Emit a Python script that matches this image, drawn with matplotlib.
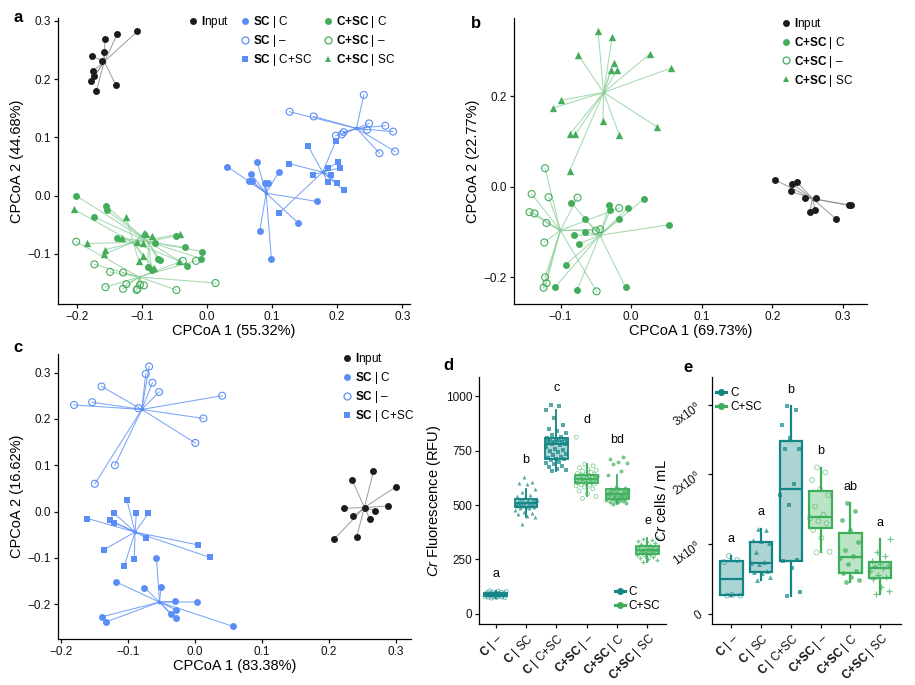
import numpy as np
import matplotlib
matplotlib.use('Agg')
import matplotlib.pyplot as plt
from matplotlib.lines import Line2D

plt.rcParams['font.family'] = ['Liberation Sans', 'DejaVu Sans']
plt.rcParams['mathtext.fontset'] = 'custom'
plt.rcParams['mathtext.rm'] = 'Liberation Sans'
plt.rcParams['mathtext.bf'] = 'Liberation Sans:bold'
plt.rcParams['mathtext.it'] = 'Liberation Sans:italic'
plt.rcParams['axes.linewidth'] = 0.9

BLACK = '#1c1c1c'
BLUE = '#5b8ef5'
GREEN = '#43ad5b'
TEAL = '#138585'
GREEN2 = '#3daf5a'

# ---- panel a (CPCoA, all samples) ----
a_input = [(-0.107, 0.282), (-0.138, 0.277), (-0.157, 0.269), (-0.177, 0.240),
           (-0.159, 0.246), (-0.162, 0.232), (-0.175, 0.214), (-0.173, 0.205),
           (-0.178, 0.197), (-0.170, 0.180), (-0.140, 0.190)]
a_sc_c = [(0.031, 0.050), (0.077, 0.058), (0.110, 0.040), (0.068, 0.037),
          (0.065, 0.025), (0.069, 0.026), (0.089, 0.022), (0.093, 0.021),
          (0.169, -0.010), (0.140, -0.047), (0.081, -0.061), (0.099, -0.109)]
a_sc_none = [(0.241, 0.173), (0.127, 0.144), (0.164, 0.136), (0.249, 0.124),
             (0.274, 0.120), (0.286, 0.110), (0.246, 0.113), (0.210, 0.109),
             (0.207, 0.105), (0.198, 0.103), (0.265, 0.073), (0.289, 0.076)]
a_sc_csc = [(0.155, 0.086), (0.198, 0.094), (0.126, 0.055), (0.202, 0.058),
            (0.186, 0.047), (0.205, 0.048), (0.163, 0.036), (0.190, 0.036),
            (0.186, 0.023), (0.200, 0.022), (0.210, 0.009), (0.111, -0.030)]
a_csc_c = [(-0.201, 0.000), (-0.155, -0.018), (-0.154, -0.025), (-0.173, -0.037),
           (-0.139, -0.072), (-0.048, -0.069), (-0.080, -0.082), (-0.034, -0.089),
           (-0.007, -0.096), (-0.009, -0.108), (-0.076, -0.109), (-0.072, -0.111),
           (-0.030, -0.121), (-0.091, -0.123), (-0.085, -0.127)]
a_csc_none = [(-0.201, -0.079), (-0.173, -0.118), (-0.149, -0.131), (-0.129, -0.132),
              (-0.156, -0.157), (-0.129, -0.160), (-0.124, -0.152), (-0.108, -0.162),
              (-0.107, -0.160), (-0.103, -0.153), (-0.097, -0.154), (-0.047, -0.162),
              (0.013, -0.150), (-0.037, -0.112), (-0.017, -0.112)]
a_csc_sc = [(-0.205, -0.023), (-0.124, -0.037), (-0.097, -0.064), (-0.093, -0.066),
            (-0.085, -0.069), (-0.131, -0.073), (-0.108, -0.080), (-0.099, -0.081),
            (-0.184, -0.082), (-0.157, -0.093), (-0.158, -0.100), (-0.099, -0.104),
            (-0.105, -0.112), (-0.042, -0.066), (-0.082, -0.124), (-0.043, -0.112)]

# ---- panel b (C+SC samples) ----
b_input = [(0.204, 0.015), (0.228, 0.007), (0.235, 0.010), (0.226, -0.010),
           (0.246, -0.024), (0.262, -0.024), (0.253, -0.056), (0.261, -0.052),
           (0.290, -0.071), (0.308, -0.041), (0.312, -0.041)]
b_csc_c = [(-0.085, -0.035), (-0.031, -0.041), (-0.030, -0.052), (-0.004, -0.046),
           (0.018, -0.027), (-0.065, -0.072), (-0.017, -0.071), (-0.081, -0.107),
           (-0.065, -0.100), (-0.074, -0.126), (0.054, -0.084), (-0.093, -0.172),
           (-0.108, -0.222), (-0.077, -0.229), (-0.008, -0.222)]
b_csc_none = [(-0.122, 0.041), (-0.141, -0.016), (-0.117, -0.023), (-0.144, -0.056),
              (-0.137, -0.059), (-0.120, -0.080), (-0.123, -0.123), (-0.076, -0.024),
              (-0.017, -0.047), (-0.050, -0.097), (-0.044, -0.094), (-0.122, -0.200),
              (-0.120, -0.213), (-0.124, -0.223), (-0.049, -0.231)]
b_csc_sc = [(-0.047, 0.344), (-0.027, 0.330), (-0.075, 0.291), (0.026, 0.293),
            (-0.025, 0.274), (-0.029, 0.257), (-0.020, 0.258), (0.056, 0.262),
            (-0.100, 0.191), (-0.111, 0.174), (-0.040, 0.146), (0.036, 0.133),
            (-0.087, 0.116), (-0.079, 0.116), (-0.017, 0.115), (-0.087, 0.036)]

# ---- panel c (SC samples) ----
c_input = [(0.267, 0.087), (0.235, 0.069), (0.300, 0.053), (0.223, 0.007),
           (0.237, -0.010), (0.289, 0.012), (0.270, 0.002), (0.262, -0.017),
           (0.208, -0.060), (0.242, -0.054), (0.254, 0.008)]
c_sc_c = [(-0.057, -0.101), (-0.117, -0.152), (-0.075, -0.164), (-0.050, -0.162),
          (-0.030, -0.194), (0.003, -0.195), (-0.028, -0.212), (-0.036, -0.221),
          (-0.028, -0.230), (-0.138, -0.227), (-0.132, -0.238), (0.058, -0.248)]
c_sc_none = [(-0.068, 0.313), (-0.073, 0.297), (-0.063, 0.278), (-0.139, 0.270),
             (-0.053, 0.258), (-0.153, 0.236), (-0.180, 0.230), (0.041, 0.250),
             (-0.084, 0.223), (0.013, 0.201), (0.001, 0.148), (-0.119, 0.100),
             (-0.149, 0.060)]
c_sc_csc = [(-0.101, 0.024), (-0.120, -0.004), (-0.087, -0.003), (-0.069, -0.004),
            (-0.160, -0.015), (-0.126, -0.019), (-0.120, -0.024), (-0.072, -0.057),
            (0.005, -0.072), (-0.135, -0.082), (-0.090, -0.102), (0.023, -0.099),
            (-0.105, -0.117)]

# ---- panel d / e (box plots) ----
groups = ['C|–', 'C|SC', 'C|C+SC', 'C+SC|–', 'C+SC|C', 'C+SC|SC']
d_letters = ['a', 'b', 'c', 'd', 'bd', 'e']
e_letters = ['a', 'a', 'b', 'b', 'ab', 'a']
d_rfu = [
    [72, 74, 75, 76, 77, 78, 79, 80, 82, 83, 84, 85, 86, 87, 87, 88, 89, 90, 91, 92,
     94, 95, 96, 97, 98, 99, 100, 102, 104, 106],
    [415, 445, 452, 458, 465, 470, 478, 485, 488, 490, 492, 494, 496, 498, 500, 502,
     503, 505, 506, 507, 508, 510, 512, 514, 516, 518, 520, 522, 524, 526, 530, 535,
     540, 548, 560, 575, 598, 600, 605, 630],
    [655, 662, 668, 675, 680, 690, 695, 700, 705, 710, 712, 715, 720, 728, 735, 742,
     750, 755, 760, 768, 775, 780, 782, 785, 788, 790, 792, 795, 798, 800, 802, 805,
     808, 812, 820, 830, 840, 850, 870, 900, 935, 955, 960],
    [530, 540, 552, 565, 575, 582, 588, 592, 595, 597, 600, 602, 604, 606, 608, 610,
     612, 614, 615, 617, 618, 620, 622, 624, 626, 628, 630, 632, 635, 638, 640, 642,
     645, 650, 655, 660, 665, 672, 680, 688, 812],
    [505, 510, 512, 515, 518, 520, 522, 524, 526, 528, 530, 532, 535, 538, 540, 542,
     545, 547, 548, 550, 552, 555, 558, 560, 562, 565, 568, 570, 572, 575, 580, 585,
     640, 655, 690, 695, 700, 710, 720],
    [240, 248, 252, 258, 262, 266, 270, 272, 275, 277, 279, 281, 283, 285, 287, 289,
     290, 291, 292, 294, 296, 298, 300, 302, 305, 308, 310, 312, 316, 320, 325, 330,
     335, 340, 345, 350],
]
e_cells_M = [
    [0.26, 0.26, 0.27, 0.74, 0.77, 0.83],
    [0.48, 0.53, 0.58, 0.60, 0.62, 0.72, 0.73, 0.74, 0.88, 1.01, 1.04, 1.06, 1.20, 1.22],
    [0.25, 0.31, 0.66, 0.75, 0.77, 1.56, 1.71, 1.86, 2.36, 2.36, 2.53, 2.71, 2.93, 2.98],
    [0.88, 0.89, 1.09, 1.20, 1.30, 1.33, 1.37, 1.42, 1.54, 1.70, 1.79, 1.92, 2.03, 2.10],
    [0.45, 0.49, 0.52, 0.58, 0.61, 0.72, 0.80, 0.83, 0.92, 1.03, 1.20, 1.35, 1.48, 1.59],
    [0.29, 0.33, 0.38, 0.50, 0.52, 0.55, 0.62, 0.66, 0.68, 0.70, 0.72, 0.76, 0.83, 0.88, 1.07],
]

W, H = 915, 685
fig = plt.figure(figsize=(W / 100, H / 100), dpi=100)


def px_axes(left, top, right, bottom):
    return fig.add_axes([left / W, 1 - bottom / H, (right - left) / W, (bottom - top) / H])


def style(ax):
    ax.spines['top'].set_visible(False)
    ax.spines['right'].set_visible(False)
    ax.tick_params(length=3, width=0.9, labelsize=8.5, pad=2, colors='#111111')


def ticklabels(vals):
    return [('%.1f' % v).replace('-', '\u2212') for v in vals]


def spider(ax, pts, color, marker, filled=True, lcolor=None, lalpha=0.8, size=25):
    pts = np.array(pts)
    cx, cy = pts.mean(axis=0)
    lc = lcolor or color
    for x, y in pts:
        ax.plot([cx, x], [cy, y], color=lc, lw=0.75, alpha=lalpha, zorder=1)
    if filled:
        ax.scatter(pts[:, 0], pts[:, 1], s=size, marker=marker, color=color,
                   linewidths=0, zorder=3)
    else:
        ax.scatter(pts[:, 0], pts[:, 1], s=size, marker=marker, facecolors='none',
                   edgecolors=color, linewidths=0.8, zorder=3)
    ax.scatter([cx], [cy], s=3, color=lc, zorder=2)


def handle(color, marker, filled=True):
    return Line2D([], [], linestyle='', marker=marker, markersize=5,
                  markerfacecolor=color if filled else 'none',
                  markeredgecolor=color, markeredgewidth=0.9 if not filled else 0)


blank = Line2D([], [], linestyle='', marker='')
lbl_input = r'$\mathbf{I}$nput'


def pcoa_axes(ax, xlim, ylim, xt, yt, xl, yl):
    style(ax)
    ax.set_xlim(*xlim)
    ax.set_ylim(*ylim)
    ax.set_xticks(xt)
    ax.set_xticklabels(ticklabels(xt))
    ax.set_yticks(yt)
    ax.set_yticklabels(ticklabels(yt))
    ax.set_xlabel(xl, fontsize=10.5, labelpad=1)
    ax.set_ylabel(yl, fontsize=10.5, labelpad=3)


# ---------------- a ----------------
ax = px_axes(58, 18, 410, 304)
spider(ax, a_input, BLACK, 'o', lcolor='#8a8a8a')
spider(ax, a_sc_c, BLUE, 'o')
spider(ax, a_sc_none, BLUE, 'o', filled=False)
spider(ax, a_sc_csc, BLUE, 's', size=22)
spider(ax, a_csc_c, GREEN, 'o', lcolor='#8fcf9c')
spider(ax, a_csc_none, GREEN, 'o', filled=False, lcolor='#8fcf9c')
spider(ax, a_csc_sc, GREEN, '^', lcolor='#8fcf9c', size=28)
pcoa_axes(ax, (-0.229, 0.312), (-0.186, 0.305), [-0.2, -0.1, 0.0, 0.1, 0.2, 0.3],
          [-0.1, 0.0, 0.1, 0.2, 0.3], 'CPCoA 1 (55.32%)', 'CPCoA 2 (44.68%)')
hs = [handle(BLACK, 'o'), blank, blank,
      handle(BLUE, 'o'), handle(BLUE, 'o', False), handle(BLUE, 's'),
      handle(GREEN, 'o'), handle(GREEN, 'o', False), handle(GREEN, '^')]
ls = [lbl_input, ' ', ' ',
      r'$\mathbf{SC}$ | C', r'$\mathbf{SC}$ | –', r'$\mathbf{SC}$ | C+SC',
      r'$\mathbf{C{+}SC}$ | C', r'$\mathbf{C{+}SC}$ | –', r'$\mathbf{C{+}SC}$ | SC']
ax.legend(hs, ls, ncol=3, loc='upper left', bbox_to_anchor=(0.374, 1.014), frameon=False,
          fontsize=8.5, borderpad=0, handlelength=0.6, handletextpad=0.4,
          labelspacing=0.25, columnspacing=1.0, borderaxespad=0)

# ---------------- b ----------------
ax = px_axes(514, 18, 867, 304)
spider(ax, b_input, BLACK, 'o', lcolor='#8a8a8a')
spider(ax, b_csc_c, GREEN, 'o', lcolor='#8fcf9c')
spider(ax, b_csc_none, GREEN, 'o', filled=False, lcolor='#8fcf9c')
spider(ax, b_csc_sc, GREEN, '^', lcolor='#8fcf9c', size=28)
pcoa_axes(ax, (-0.166, 0.334), (-0.259, 0.373), [-0.1, 0.0, 0.1, 0.2, 0.3],
          [-0.2, 0.0, 0.2], 'CPCoA 1 (69.73%)', 'CPCoA 2 (22.77%)')
ax.legend([handle(BLACK, 'o'), handle(GREEN, 'o'), handle(GREEN, 'o', False), handle(GREEN, '^')],
          [lbl_input, r'$\mathbf{C{+}SC}$ | C', r'$\mathbf{C{+}SC}$ | –', r'$\mathbf{C{+}SC}$ | SC'],
          loc='upper left', bbox_to_anchor=(0.760, 1.008), frameon=False, fontsize=8.5,
          borderpad=0, handlelength=0.6, handletextpad=0.4, labelspacing=0.25, borderaxespad=0)

# ---------------- c ----------------
ax = px_axes(58, 354, 411, 639)
spider(ax, c_input, BLACK, 'o', lcolor='#8a8a8a')
spider(ax, c_sc_c, BLUE, 'o')
spider(ax, c_sc_none, BLUE, 'o', filled=False)
spider(ax, c_sc_csc, BLUE, 's', size=22)
pcoa_axes(ax, (-0.204, 0.323), (-0.275, 0.340), [-0.2, -0.1, 0.0, 0.1, 0.2, 0.3],
          [-0.2, -0.1, 0.0, 0.1, 0.2, 0.3], 'CPCoA 1 (83.38%)', 'CPCoA 2 (16.62%)')
ax.legend([handle(BLACK, 'o'), handle(BLUE, 'o'), handle(BLUE, 'o', False), handle(BLUE, 's')],
          [lbl_input, r'$\mathbf{SC}$ | C', r'$\mathbf{SC}$ | –', r'$\mathbf{SC}$ | C+SC'],
          loc='upper left', bbox_to_anchor=(0.809, 1.010), frameon=False, fontsize=8.5,
          borderpad=0, handlelength=0.6, handletextpad=0.4, labelspacing=0.25, borderaxespad=0)

# ---------------- d / e ----------------
box_colors = [TEAL, TEAL, TEAL, GREEN2, GREEN2, GREEN2]
markers = [('o', False), ('^', True), ('s', True), ('o', False), ('o', True), ('+', True)]
xlabels = [r'$\mathbf{C}$ | –', r'$\mathbf{C}$ | SC', r'$\mathbf{C}$ | C+SC',
           r'$\mathbf{C{+}SC}$ | –', r'$\mathbf{C{+}SC}$ | C', r'$\mathbf{C{+}SC}$ | SC']


def box_panel(ax, data, letters, lw, psize, yrange):
    style(ax)
    for i, vals in enumerate(data):
        vals = np.asarray(vals, dtype=float)
        pos = i + 1
        col = box_colors[i]
        bp = ax.boxplot([vals], positions=[pos], widths=0.75, patch_artist=True,
                        showfliers=False, showcaps=False, whis=1.5)
        for b in bp['boxes']:
            b.set_facecolor(matplotlib.colors.to_rgba(col, 0.35))
            b.set_edgecolor(col)
            b.set_linewidth(lw)
        for k in ('whiskers', 'medians'):
            for l in bp[k]:
                l.set_color(col)
                l.set_linewidth(lw)
        n = len(vals)
        offs = ((np.arange(n) * 0.618034 + 0.3) % 1 - 0.5) * 0.72
        mk, filled = markers[i]
        if mk == '+':
            ax.scatter(pos + offs, vals, s=psize * 1.2, marker=mk, color=col, alpha=0.7,
                       linewidths=0.9, zorder=3)
        elif filled:
            ax.scatter(pos + offs, vals, s=psize, marker=mk, color=col, alpha=0.7,
                       linewidths=0, zorder=3)
        else:
            ax.scatter(pos + offs, vals, s=psize, marker=mk, facecolors='none',
                       edgecolors=col, alpha=0.6, linewidths=0.6, zorder=3)
        ax.text(pos, vals.max() + 0.05 * yrange, letters[i], ha='center', va='bottom',
                fontsize=9)
    ax.set_xticks(range(1, 7))
    ax.set_xticklabels(xlabels, rotation=45, ha='right', rotation_mode='anchor', fontsize=8.5)


ax = px_axes(479, 377, 666, 624)
box_panel(ax, d_rfu, d_letters, 1.3, 8, 1000)
ax.set_xlim(0.45, 6.61)
ax.set_ylim(-47, 1089)
ax.set_yticks([0, 250, 500, 750, 1000])
ax.set_ylabel(r'$\mathit{Cr}$ Fluorescence (RFU)', fontsize=10.5, labelpad=2)
lh = [Line2D([], [], color=TEAL, lw=2.2, marker='o', ms=4),
      Line2D([], [], color=GREEN2, lw=2.2, marker='o', ms=4)]
ax.legend(lh, ['C', 'C+SC'], loc='upper left', bbox_to_anchor=(0.725, 0.155), frameon=False,
          fontsize=8.5, borderpad=0, handlelength=0.9, handletextpad=0.3,
          labelspacing=0.2, borderaxespad=0)

ax = px_axes(712, 377, 901, 624)
e_cells = [np.array(v) * 1e6 for v in e_cells_M]
box_panel(ax, e_cells, e_letters, 1.6, 12, 3.0e6)
ax.set_xlim(0.35, 6.70)
ax.set_ylim(-0.148e6, 3.40e6)
ax.set_yticks([0, 1e6, 2e6, 3e6])
ax.set_yticklabels(['0', r'1x10$^6$', r'2x10$^6$', r'3x10$^6$'], rotation=35, fontsize=8.5)
ax.set_ylabel(r'$\mathit{Cr}$ cells / mL', fontsize=10.5, labelpad=1)
ax.legend(lh, ['C', 'C+SC'], loc='upper left', bbox_to_anchor=(0.02, 0.96), frameon=False,
          fontsize=8.5, borderpad=0, handlelength=0.9, handletextpad=0.3,
          labelspacing=0.2, borderaxespad=0)

for letter, x, y in [('a', 18, 18), ('b', 476, 24), ('c', 18, 347), ('d', 448, 366), ('e', 688, 367)]:
    fig.text(x / W, 1 - y / H, letter, fontsize=12, fontweight='bold', ha='center', va='center')

fig.savefig('out.png', dpi=100)
